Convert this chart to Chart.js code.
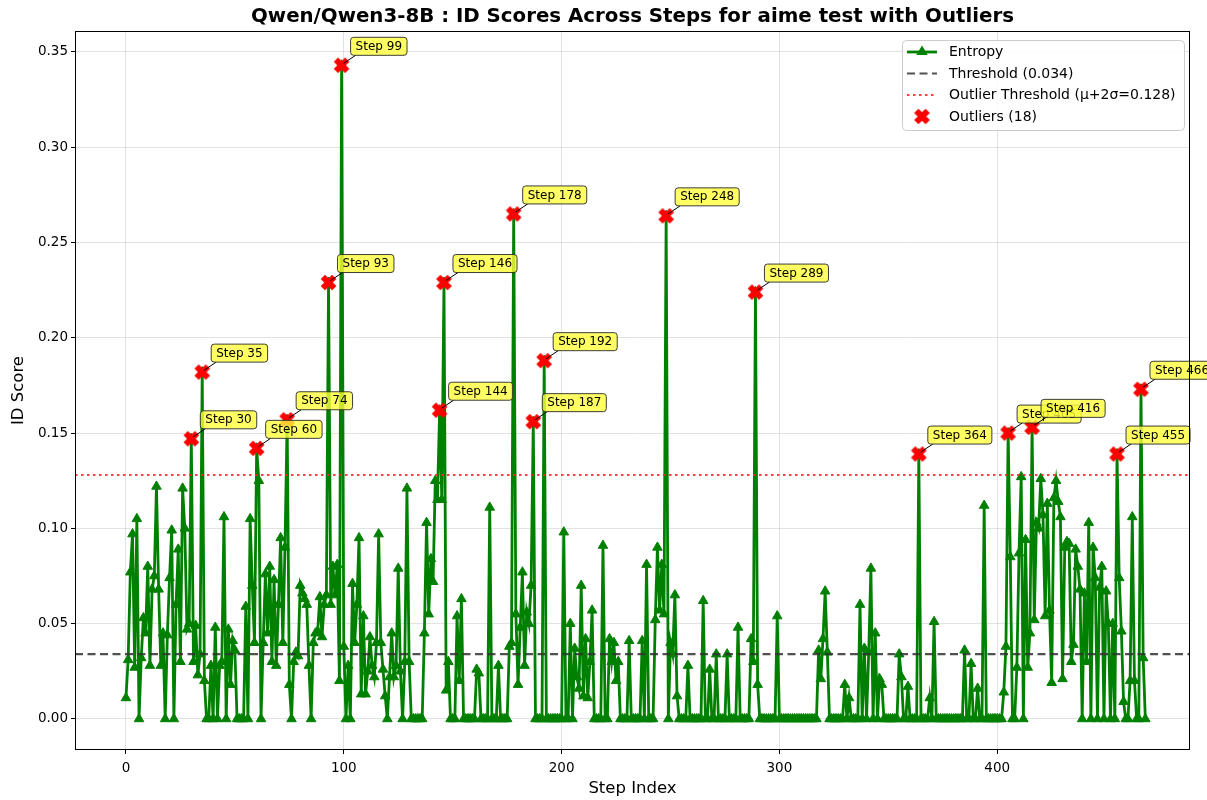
<!DOCTYPE html>
<html>
<head>
<meta charset="utf-8">
<script src="https://cdn.jsdelivr.net/npm/chart.js@4.4.1/dist/chart.umd.min.js"></script>
<style>
  html, body { margin: 0; padding: 0; background: #fff; }
  #chart { display: block; }
</style>
</head>
<body>
<canvas id="chart" width="1207" height="800"></canvas>
<script>
// ID score per step (index = step)
const idScores = [
  0.011, 0.031, 0.077, 0.097, 0.027, 0.105, 0.0, 0.032, 0.053, 0.045,
  0.080, 0.028, 0.068, 0.075, 0.122, 0.068, 0.028, 0.045, 0.0, 0.044,
  0.074, 0.099, 0.0, 0.060, 0.089, 0.030, 0.121, 0.100, 0.047, 0.050,
  0.147, 0.030, 0.049, 0.023, 0.034, 0.182, 0.020, 0.0, 0.0, 0.028,
  0.0, 0.048, 0.0, 0.028, 0.030, 0.106, 0.0, 0.047, 0.018, 0.041,
  0.036, 0.0, 0.0, 0.0, 0.0, 0.059, 0.0, 0.105, 0.070, 0.040,
  0.142, 0.125, 0.0, 0.040, 0.076, 0.045, 0.080, 0.030, 0.073, 0.028,
  0.060, 0.095, 0.040, 0.090, 0.157, 0.018, 0.0, 0.030, 0.035, 0.033,
  0.070, 0.066, 0.063, 0.060, 0.028, 0.0, 0.040, 0.045, 0.046, 0.064,
  0.043, 0.060, 0.065, 0.229, 0.060, 0.080, 0.065, 0.081, 0.020, 0.343,
  0.038, 0.0, 0.028, 0.0, 0.071, 0.040, 0.060, 0.095, 0.013, 0.054,
  0.013, 0.025, 0.043, 0.028, 0.022, 0.040, 0.097, 0.040, 0.026, 0.012,
  0.0, 0.022, 0.045, 0.022, 0.028, 0.079, 0.025, 0.0, 0.030, 0.121,
  0.030, 0.0, 0.0, 0.0, 0.0, 0.0, 0.0, 0.045, 0.103, 0.055,
  0.084, 0.072, 0.125, 0.115, 0.162, 0.115, 0.229, 0.015, 0.030, 0.0,
  0.0, 0.0, 0.054, 0.020, 0.063, 0.0, 0.0, 0.0, 0.0, 0.0,
  0.0, 0.026, 0.024, 0.0, 0.0, 0.0, 0.0, 0.111, 0.0, 0.0,
  0.0, 0.028, 0.0, 0.0, 0.0, 0.0, 0.038, 0.040, 0.265, 0.055,
  0.018, 0.048, 0.077, 0.028, 0.056, 0.050, 0.070, 0.156, 0.0, 0.0,
  0.0, 0.0, 0.188, 0.0, 0.0, 0.0, 0.0, 0.0, 0.0, 0.0,
  0.0, 0.098, 0.0, 0.0, 0.050, 0.0, 0.037, 0.022, 0.016, 0.070,
  0.012, 0.042, 0.011, 0.030, 0.057, 0.0, 0.0, 0.0, 0.0, 0.091,
  0.0, 0.0, 0.042, 0.030, 0.040, 0.020, 0.030, 0.0, 0.0, 0.0,
  0.0, 0.041, 0.0, 0.0, 0.0, 0.0, 0.0, 0.041, 0.0, 0.081,
  0.0, 0.0, 0.0, 0.052, 0.090, 0.057, 0.081, 0.055, 0.264, 0.0,
  0.040, 0.034, 0.065, 0.012, 0.0, 0.0, 0.0, 0.0, 0.028, 0.0,
  0.0, 0.0, 0.0, 0.0, 0.0, 0.062, 0.0, 0.0, 0.026, 0.0,
  0.0, 0.034, 0.0, 0.0, 0.0, 0.0, 0.034, 0.0, 0.0, 0.0,
  0.0, 0.048, 0.0, 0.0, 0.0, 0.0, 0.0, 0.042, 0.030, 0.224,
  0.018, 0.0, 0.0, 0.0, 0.0, 0.0, 0.0, 0.0, 0.0, 0.054,
  0.0, 0.0, 0.0, 0.0, 0.0, 0.0, 0.0, 0.0, 0.0, 0.0,
  0.0, 0.0, 0.0, 0.0, 0.0, 0.0, 0.0, 0.0, 0.036, 0.021,
  0.042, 0.067, 0.035, 0.0, 0.0, 0.0, 0.0, 0.0, 0.0, 0.0,
  0.018, 0.0, 0.011, 0.0, 0.0, 0.0, 0.0, 0.060, 0.0, 0.037,
  0.0, 0.035, 0.079, 0.0, 0.045, 0.0, 0.021, 0.018, 0.0, 0.0,
  0.0, 0.0, 0.0, 0.0, 0.0, 0.034, 0.022, 0.0, 0.0, 0.017,
  0.0, 0.0, 0.0, 0.0, 0.139, 0.0, 0.0, 0.0, 0.0, 0.011,
  0.0, 0.051, 0.0, 0.0, 0.0, 0.0, 0.0, 0.0, 0.0, 0.0,
  0.0, 0.0, 0.0, 0.0, 0.0, 0.036, 0.0, 0.0, 0.029, 0.0,
  0.0, 0.016, 0.0, 0.0, 0.112, 0.0, 0.0, 0.0, 0.0, 0.0,
  0.0, 0.0, 0.0, 0.014, 0.038, 0.150, 0.085, 0.0, 0.0, 0.027,
  0.087, 0.127, 0.0, 0.094, 0.027, 0.045, 0.153, 0.052, 0.103, 0.100,
  0.126, 0.107, 0.054, 0.113, 0.057, 0.019, 0.116, 0.125, 0.114, 0.106,
  0.021, 0.090, 0.093, 0.092, 0.030, 0.039, 0.089, 0.080, 0.068, 0.0,
  0.066, 0.030, 0.103, 0.0, 0.090, 0.074, 0.0, 0.069, 0.080, 0.0,
  0.067, 0.050, 0.0, 0.050, 0.0, 0.139, 0.074, 0.046, 0.009, 0.0,
  0.0, 0.020, 0.106, 0.020, 0.0, 0.0, 0.173, 0.032, 0.0
];

// steps flagged above mu + 2 sigma
const outlierSteps = [30, 35, 60, 74, 93, 99, 144, 146, 178, 187, 192, 248, 289, 364, 405, 416, 455, 466];

const thresholdValue = 0.034;
const outlierThresholdValue = 0.128;

const xTicks = [0, 100, 200, 300, 400];
const yTicks = [0, 0.05, 0.10, 0.15, 0.20, 0.25, 0.30, 0.35];

const titleText = "Qwen/Qwen3-8B : ID Scores Across Steps for aime test with Outliers";
const xAxisTitle = "Step Index";
const yAxisTitle = "ID Score";
const legendLabels = [
  "Entropy",
  "Threshold (0.034)",
  "Outlier Threshold (\u03bc+2\u03c3=0.128)",
  "Outliers (18)"
];

// axis limits
const X_MIN = -23.4, X_MAX = 488.5;
const Y_MIN = -0.0163, Y_MAX = 0.3610;

const FONT = "'DejaVu Sans', Verdana, sans-serif";
const GREEN = "#008000";
const DASH_GREY = "rgba(50,50,50,0.85)";
const DOT_RED = "rgba(255,30,30,0.85)";

// filled "X" marker like matplotlib's
function makeXMarker(size) {
    const c = document.createElement("canvas");
    c.width = size; c.height = size;
    const g = c.getContext("2d");
    const p = size * 0.2, lw = size * 0.32;
    g.strokeStyle = "#ff0000";
    g.lineWidth = lw;
    g.lineCap = "butt";
    g.beginPath();
    g.moveTo(p, p); g.lineTo(size - p, size - p);
    g.moveTo(size - p, p); g.lineTo(p, size - p);
    g.stroke();
    return c;
}
const xMarker = makeXMarker(19);

const stepPoints = idScores.map((v, i) => ({ x: i, y: v }));
const outlierPoints = outlierSteps.map(s => ({ x: s, y: idScores[s] }));

function triangle(ctx, cx, cy, r) {
    ctx.beginPath();
    ctx.moveTo(cx, cy - r);
    ctx.lineTo(cx + r * 0.95, cy + r * 0.6);
    ctx.lineTo(cx - r * 0.95, cy + r * 0.6);
    ctx.closePath();
    ctx.fill();
}

const decorPlugin = {
    id: "decor",
    afterDatasetsDraw(chart) {
        const ctx = chart.ctx;
        const meta = chart.getDatasetMeta(0);
        ctx.save();
        ctx.font = "12px " + FONT;
        ctx.textBaseline = "middle";
        meta.data.forEach((pt, i) => {
            const label = "Step " + outlierSteps[i];
            const left = pt.x + 9, top = pt.y - 28, h = 18;
            const w = ctx.measureText(label).width + 10;
            // arrow
            ctx.strokeStyle = "#000";
            ctx.lineWidth = 1;
            ctx.beginPath();
            ctx.moveTo(left + 5, top + h);
            ctx.lineTo(pt.x + 2, pt.y - 2);
            ctx.stroke();
            // box
            ctx.fillStyle = "rgba(255,255,60,0.8)";
            ctx.strokeStyle = "rgba(40,40,40,0.9)";
            ctx.beginPath();
            ctx.roundRect(left, top, w, h, 3);
            ctx.fill();
            ctx.stroke();
            ctx.fillStyle = "#000";
            ctx.textAlign = "left";
            ctx.fillText(label, left + 5, top + h / 2 + 0.5);
        });
        ctx.restore();
    },
    afterDraw(chart) {
        const ctx = chart.ctx;
        const a = chart.chartArea;
        ctx.save();
        // frame
        ctx.strokeStyle = "#000";
        ctx.lineWidth = 1;
        ctx.strokeRect(a.left + 0.5, a.top + 0.5, a.right - a.left - 1, a.bottom - a.top - 1);

        // title
        ctx.fillStyle = "#000";
        ctx.textAlign = "center";
        ctx.textBaseline = "middle";
        ctx.font = "bold 19.8px " + FONT;
        ctx.fillText(titleText, (a.left + a.right) / 2, 17);

        // axis titles
        ctx.font = "16.5px " + FONT;
        ctx.fillText(xAxisTitle, (a.left + a.right) / 2, 789);
        ctx.translate(19, (a.top + a.bottom) / 2);
        ctx.rotate(-Math.PI / 2);
        ctx.fillText(yAxisTitle, 0, 0);
        ctx.restore();

        // legend
        ctx.save();
        const lx = 902, ly = 40, lw = 282, lh = 90;
        ctx.fillStyle = "rgba(255,255,255,0.85)";
        ctx.strokeStyle = "#cccccc";
        ctx.lineWidth = 1;
        ctx.beginPath();
        ctx.roundRect(lx + 0.5, ly + 0.5, lw, lh, 4);
        ctx.fill();
        ctx.stroke();
        const rows = [52, 73.5, 95, 116.5];
        const sx0 = 907, sx1 = 937, smid = 922;
        ctx.lineWidth = 2.8;
        ctx.strokeStyle = GREEN;
        ctx.fillStyle = GREEN;
        ctx.beginPath(); ctx.moveTo(sx0, rows[0]); ctx.lineTo(sx1, rows[0]); ctx.stroke();
        triangle(ctx, smid, rows[0] - 0.5, 6);

        ctx.lineWidth = 2.2;
        ctx.strokeStyle = DASH_GREY;
        ctx.setLineDash([8, 4.5]);
        ctx.beginPath(); ctx.moveTo(sx0, rows[1]); ctx.lineTo(sx1, rows[1]); ctx.stroke();

        ctx.strokeStyle = DOT_RED;
        ctx.setLineDash([2.5, 3.5]);
        ctx.beginPath(); ctx.moveTo(sx0, rows[2]); ctx.lineTo(sx1, rows[2]); ctx.stroke();
        ctx.setLineDash([]);

        ctx.drawImage(xMarker, smid - 9.5, rows[3] - 9.5);

        ctx.fillStyle = "#000";
        ctx.font = "14px " + FONT;
        ctx.textAlign = "left";
        ctx.textBaseline = "middle";
        legendLabels.forEach((t, i) => ctx.fillText(t, 949, rows[i] + 0.5));
        ctx.restore();
    }
};

new Chart(document.getElementById("chart"), {
    type: "line",
    data: {
        datasets: [
            {
                label: legendLabels[3],
                data: outlierPoints,
                showLine: false,
                pointStyle: xMarker,
                pointRadius: 9,
                order: 0
            },
            {
                label: legendLabels[2],
                data: [{ x: X_MIN, y: outlierThresholdValue }, { x: X_MAX, y: outlierThresholdValue }],
                borderColor: DOT_RED,
                borderWidth: 2.2,
                borderDash: [2.5, 3.5],
                pointRadius: 0,
                order: 1
            },
            {
                label: legendLabels[1],
                data: [{ x: X_MIN, y: thresholdValue }, { x: X_MAX, y: thresholdValue }],
                borderColor: DASH_GREY,
                borderWidth: 2.2,
                borderDash: [8, 4.5],
                pointRadius: 0,
                order: 2
            },
            {
                label: legendLabels[0],
                data: stepPoints,
                borderColor: GREEN,
                backgroundColor: GREEN,
                borderWidth: 2.8,
                pointStyle: "triangle",
                pointRadius: 5.5,
                pointBorderWidth: 1,
                tension: 0,
                order: 3
            }
        ]
    },
    options: {
        responsive: false,
        animation: false,
        events: [],
        layout: { padding: { left: 0, right: 17, top: 31, bottom: 0 } },
        plugins: {
            legend: { display: false },
            title: { display: false },
            tooltip: { enabled: false }
        },
        scales: {
            x: {
                type: "linear",
                min: X_MIN,
                max: X_MAX,
                afterBuildTicks: s => { s.ticks = xTicks.map(v => ({ value: v })); },
                afterFit: s => { s.height = 50; },
                grid: { color: "rgba(160,160,160,0.3)", tickColor: "#000", tickLength: 4 },
                border: { display: false },
                ticks: {
                    color: "#000",
                    padding: 6,
                    maxRotation: 0,
                    font: { family: FONT, size: 13.5 },
                    callback: v => String(v)
                }
            },
            y: {
                type: "linear",
                min: Y_MIN,
                max: Y_MAX,
                afterBuildTicks: s => { s.ticks = yTicks.map(v => ({ value: v })); },
                afterFit: s => { s.width = 75; },
                grid: { color: "rgba(160,160,160,0.3)", tickColor: "#000", tickLength: 4 },
                border: { display: false },
                ticks: {
                    color: "#000",
                    padding: 3,
                    font: { family: FONT, size: 13.5 },
                    callback: v => v.toFixed(2)
                }
            }
        }
    },
    plugins: [decorPlugin]
});
</script>
</body>
</html>
